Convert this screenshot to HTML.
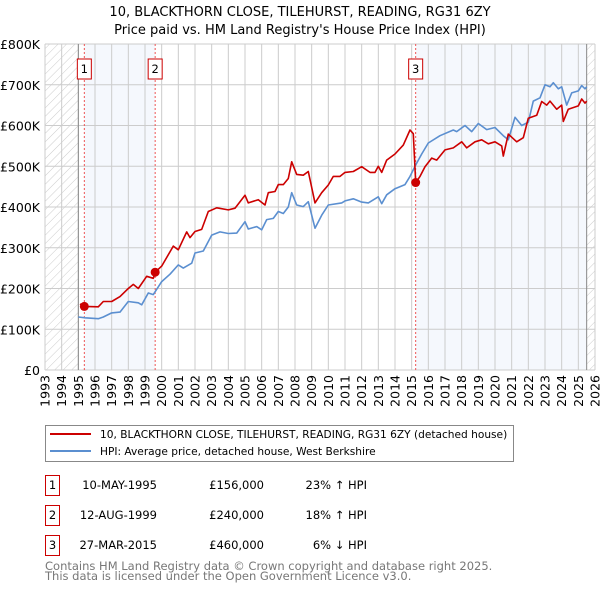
<!DOCTYPE html>
<html><head><meta charset="utf-8"><style>
body{margin:0;background:#fff;font-family:"Liberation Sans","DejaVu Sans",sans-serif;}
svg text{font-family:"DejaVu Sans","Liberation Sans",sans-serif;}
</style></head><body>
<svg id="chart" width="600" height="590" xmlns="http://www.w3.org/2000/svg">
<defs><pattern id="hatch" patternUnits="userSpaceOnUse" width="6" height="6" patternTransform="rotate(45)"><line x1="0" y1="0" x2="0" y2="6" stroke="#ccc" stroke-width="1"/></pattern></defs>
<text x="300" y="16" font-size="13" text-anchor="middle">10, BLACKTHORN CLOSE, TILEHURST, READING, RG31 6ZY</text>
<text x="300" y="34" font-size="13" text-anchor="middle">Price paid vs. HM Land Registry's House Price Index (HPI)</text>
<g id="plot"></g>
<g>
<rect x="45.5" y="425.5" width="468" height="36" fill="#fff" stroke="#888"/>
<line x1="50" y1="434" x2="91" y2="434" stroke="#cc0000" stroke-width="2"/>
<text x="100" y="438" font-size="10.6">10, BLACKTHORN CLOSE, TILEHURST, READING, RG31 6ZY (detached house)</text>
<line x1="50" y1="451" x2="91" y2="451" stroke="#5b8fd0" stroke-width="2"/>
<text x="100" y="455" font-size="10.6">HPI: Average price, detached house, West Berkshire</text>
</g>
<g font-size="11.5">
<rect x="45.5" y="475.5" width="14" height="20" fill="#fff" stroke="#cc0000"/><text x="52.5" y="489" text-anchor="middle">1</text>
<text x="157" y="489" text-anchor="end">10-MAY-1995</text><text x="264" y="489" text-anchor="end">£156,000</text><text x="367" y="489" text-anchor="end">23% ↑ HPI</text>
<rect x="45.5" y="505.5" width="14" height="20" fill="#fff" stroke="#cc0000"/><text x="52.5" y="519" text-anchor="middle">2</text>
<text x="157" y="519" text-anchor="end">12-AUG-1999</text><text x="264" y="519" text-anchor="end">£240,000</text><text x="367" y="519" text-anchor="end">18% ↑ HPI</text>
<rect x="45.5" y="535.5" width="14" height="20" fill="#fff" stroke="#cc0000"/><text x="52.5" y="549" text-anchor="middle">3</text>
<text x="157" y="549" text-anchor="end">27-MAR-2015</text><text x="264" y="549" text-anchor="end">£460,000</text><text x="367" y="549" text-anchor="end">6% ↓ HPI</text>
</g>
<text x="45" y="570" font-size="11.5" fill="#777">Contains HM Land Registry data © Crown copyright and database right 2025.</text>
<text x="45" y="580" font-size="11.5" fill="#777">This data is licensed under the Open Government Licence v3.0.</text>
</svg>
<script>
const yTicks=[0,100,200,300,400,500,600,700,800];
const yTickLabels=["£0","£100K","£200K","£300K","£400K","£500K","£600K","£700K","£800K"];
const xYears=[1993,1994,1995,1996,1997,1998,1999,2000,2001,2002,2003,2004,2005,2006,2007,2008,2009,2010,2011,2012,2013,2014,2015,2016,2017,2018,2019,2020,2021,2022,2023,2024,2025,2026];
const saleDates=[1995.36,1999.61,2015.24];
const salePrices=[156,240,460];
const saleLabels=["1","2","3"];
const hpiT=[1995.0,1995.4,1996.2,1996.5,1997,1997.5,1998,1998.6,1998.8,1999.2,1999.5,2000,2000.5,2001,2001.3,2001.8,2002,2002.5,2003,2003.5,2004,2004.5,2005,2005.2,2005.7,2006,2006.3,2006.7,2007,2007.3,2007.6,2007.8,2008.1,2008.5,2008.8,2009.2,2009.6,2010,2010.8,2011,2011.5,2012,2012.4,2013,2013.2,2013.5,2014,2014.6,2014.9,2015.2,2015.6,2016,2016.7,2017.5,2017.7,2018.2,2018.6,2019,2019.5,2020,2020.5,2020.8,2021.2,2021.6,2022,2022.3,2022.7,2023,2023.3,2023.5,2023.8,2024,2024.3,2024.6,2025,2025.2,2025.4,2025.5];
const hpiV=[130,128,126,130,140,142,168,165,160,189,185,217,235,258,250,262,287,292,331,339,335,336,364,346,352,344,369,372,389,384,400,435,405,401,413,348,380,405,410,415,420,412,410,425,408,430,445,455,475,500,530,557,575,589,585,600,585,605,590,595,575,565,620,600,608,660,668,700,695,705,690,695,650,680,685,698,690,695];
const ppT=[1995.1,1995.36,1996.2,1996.5,1997,1997.5,1998,1998.3,1998.6,1999.1,1999.5,1999.61,2000,2000.7,2001,2001.5,2001.7,2002,2002.4,2002.8,2003.3,2004,2004.4,2005,2005.2,2005.8,2006.2,2006.4,2006.8,2007,2007.3,2007.6,2007.8,2008.1,2008.5,2008.8,2009.2,2009.6,2010,2010.3,2010.7,2011,2011.5,2012,2012.5,2012.8,2013,2013.2,2013.5,2014,2014.5,2014.9,2015.1,2015.24,2015.5,2015.8,2016.2,2016.5,2017,2017.5,2018,2018.3,2018.8,2019.2,2019.6,2020,2020.4,2020.5,2020.8,2021.3,2021.7,2022,2022.5,2022.8,2023.1,2023.3,2023.7,2024,2024.1,2024.4,2025,2025.2,2025.4,2025.5];
const ppV=[162,156,155,168,168,180,200,210,200,230,225,240,255,304,295,339,325,340,345,389,398,393,397,429,410,418,405,435,438,455,455,470,511,480,478,487,410,435,454,475,475,485,487,499,485,485,500,485,515,530,552,589,580,460,475,499,520,515,540,545,560,545,560,565,555,560,550,525,579,560,570,618,625,659,650,660,640,650,610,640,648,665,655,660];
const X0=45,X1=595,Y0=370,Y1=44;
const xs=t=>X0+(t-1993)/(2026-1993)*(X1-X0);
const ys=v=>Y0-v/800*(Y0-Y1);
const NS="http://www.w3.org/2000/svg";
const g=document.getElementById('plot');
function mk(tag,attrs,parent){const e=document.createElementNS(NS,tag);for(const k in attrs)e.setAttribute(k,attrs[k]);(parent||g).appendChild(e);return e;}
let r=mk('rect',{x:xs(saleDates[0]),y:Y1,width:xs(saleDates[1])-xs(saleDates[0]),height:Y0-Y1,fill:'#eef3fc',opacity:0.6});


r=mk('rect',{x:xs(saleDates[2]),y:Y1,width:xs(2025.5)-xs(saleDates[2]),height:Y0-Y1,fill:'#eef3fc',opacity:0.6});


r=mk('rect',{x:X0,y:Y1,width:xs(1995)-X0,height:Y0-Y1,fill:'url(#hatch)'});


r=mk('rect',{x:xs(2025.5),y:Y1,width:X1-xs(2025.5),height:Y0-Y1,fill:'url(#hatch)'});


yTicks.forEach((v,i)=>{
 mk('line',{x1:X0,x2:X1,y1:ys(v),y2:ys(v),stroke:'#ccc','stroke-width':1});
 const t=mk('text',{x:40,y:ys(v)+5,'font-size':12.5,'text-anchor':'end'});
 t.textContent=yTickLabels[i];
 
 
});
xYears.forEach(y=>{
 mk('line',{x1:xs(y),x2:xs(y),y1:Y1,y2:Y0,stroke:'#ccc','stroke-width':1});
 const t=mk('text',{x:0,y:0,'font-size':12.5,'text-anchor':'end',transform:`translate(${xs(y)+4.5},375) rotate(-90)`});
 t.textContent=y;
 
 
});
mk('line',{x1:xs(1995),x2:xs(1995),y1:Y1,y2:Y0,stroke:'#888','stroke-width':1});
mk('line',{x1:xs(2025.5),x2:xs(2025.5),y1:Y1,y2:Y0,stroke:'#888','stroke-width':1});
saleDates.forEach((d,i)=>{
 const l=mk('line',{x1:xs(d),x2:xs(d),y1:Y1,y2:Y0,stroke:'#ee5555','stroke-width':1,'stroke-dasharray':'2,2'});
 
 
});
function path(T,V,color,name){
 const p=mk('path',{d:T.map((t,i)=>(i?'L':'M')+xs(t).toFixed(1)+','+ys(V[i]).toFixed(1)).join(''),fill:'none',stroke:color,'stroke-width':1.6,'stroke-linejoin':'round'});
 
 
}
path(hpiT,hpiV,'#5b8fd0','hpi-line');
path(ppT,ppV,'#cc0000','price-paid-line');
saleDates.forEach((d,i)=>{
 const c=mk('circle',{cx:xs(d),cy:ys(salePrices[i]),r:4.5,fill:'#cc0000'});
 
 
 const b=mk('rect',{x:xs(d)-7,y:59,width:14,height:20,fill:'#fff',stroke:'#cc0000','stroke-width':1});
 
 
 const t=mk('text',{x:xs(d),y:73,'font-size':11.5,'text-anchor':'middle'});
 t.textContent=saleLabels[i];
 
 
});
</script>
</body></html>
